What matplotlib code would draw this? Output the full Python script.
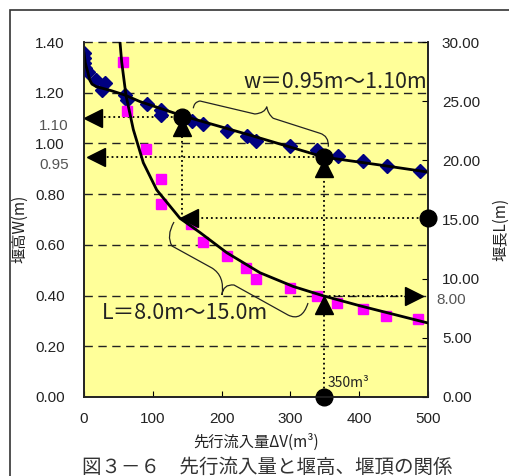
import matplotlib
matplotlib.use("Agg")
import matplotlib.pyplot as plt
from matplotlib.path import Path
from matplotlib.patches import PathPatch, Rectangle

plt.rcParams['font.family'] = ['Noto Sans CJK JP', 'DejaVu Sans']

# 先行流入量 ΔV (m3) と 堰高 W (m)
v_w = [0, 0, 0, 1.5, 6, 18, 30, 26, 59, 62, 91, 111.5, 111.5, 156.5, 173,
       208, 236.5, 250, 299, 338, 369, 406, 440, 488]
w_pts = [1.355, 1.336, 1.316, 1.296, 1.283, 1.250, 1.237, 1.211, 1.192, 1.171,
         1.155, 1.132, 1.112, 1.090, 1.075, 1.050, 1.029, 1.011, 0.990, 0.974,
         0.950, 0.932, 0.911, 0.892]

# 先行流入量 ΔV (m3) と 堰長 L (m)
v_l = [57.1, 62.1, 90.6, 111.5, 111.5, 155.5, 173.4, 207.4, 235.9, 249.3,
       298.8, 338.2, 368.2, 406.0, 439.0, 485.9]
l_pts = [28.3, 24.19, 20.94, 18.40, 16.28, 14.58, 13.07, 11.94, 10.90, 9.97,
         9.20, 8.51, 7.95, 7.42, 6.85, 6.57]

# 近似曲線
v_wfit = [0, 1.9, 5.8, 8.3, 11.6, 17.9, 39.7, 59.2, 81.4, 142, 241, 349, 430, 500]
w_fit = [1.357, 1.317, 1.278, 1.250, 1.234, 1.224, 1.208, 1.191, 1.165, 1.110,
         1.033, 0.946, 0.915, 0.887]
v_lfit = [52.3, 54.8, 61.0, 71.7, 86.2, 105.7, 139.5, 168.6, 207.4, 255.8,
          304.2, 347.8, 401.6, 498.1]
l_fit = [30.0, 28.3, 25.5, 22.6, 19.8, 17.5, 15.1, 13.9, 12.2, 10.5, 9.34,
         8.55, 7.70, 6.28]

# 読み取り点
v_a, w_a = 142, 1.105     # W = 1.10
v_b, w_b = 349, 0.945     # W = 0.95
l_a = 15.1                # L = 15.0
l_b = 8.5                 # L = 8.0

w_ticks = [0, 0.2, 0.4, 0.6, 0.8, 1.0, 1.2, 1.4]
l_ticks = [0, 5, 10, 15, 20, 25, 30]
v_ticks = [0, 100, 200, 300, 400, 500]

fig = plt.figure(figsize=(5.1, 4.76), dpi=100)
ax = fig.add_axes([84/510, 1-397/476, 344/510, 355/476])
ax.set_facecolor('#FFFF99')
ax2 = ax.twinx()

ax.set_xlim(0, 500)
ax.set_ylim(0, 1.4)
ax2.set_ylim(0, 30)

tickfont = dict(family='Liberation Sans', size=11)
ax.set_xticks(v_ticks)
ax.set_xticklabels([str(t) for t in v_ticks], fontdict=tickfont, color='#222222')
ax.set_yticks(w_ticks)
ax.set_yticklabels(['%.2f' % t for t in w_ticks], fontdict=tickfont, color='#222222')
ax2.set_yticks(l_ticks)
ax2.set_yticklabels(['%.2f' % t for t in l_ticks], fontdict=tickfont, color='#222222')
ax.tick_params(axis='x', direction='in', length=4, pad=11)
ax.tick_params(axis='y', direction='in', length=0, pad=14)
ax2.tick_params(axis='y', direction='in', length=4, pad=10)

for a in (ax, ax2):
    a.spines['top'].set_visible(False)
    for s in ('left', 'right', 'bottom'):
        a.spines[s].set_color('#222222')
        a.spines[s].set_linewidth(1.2)

for t in w_ticks[1:]:
    ax.axhline(t, color='#222222', lw=1.0, ls=(0, (6, 4)), zorder=1, clip_on=False)

# extra labels
ax.text(-0.045, 1.10 - 0.03, '1.10', transform=ax.get_yaxis_transform(),
        ha='right', va='center', fontsize=11, family='Liberation Sans', color='#555555')
ax.text(-0.045, 0.95 - 0.035, '0.95', transform=ax.get_yaxis_transform(),
        ha='right', va='center', fontsize=11, family='Liberation Sans', color='#555555')
ax2.text(1.025, 8.2, '8.00', transform=ax2.get_yaxis_transform(),
         ha='left', va='center', fontsize=11, family='Liberation Sans', color='#555555')

# data
ax.plot(v_w, w_pts, 'D', color='#000080', ms=7, mec='#000080', zorder=3)
ax2.plot(v_l, l_pts, 's', color='#FF00FF', ms=6.5, mec='#FF00FF', zorder=3)
ax.plot(v_wfit, w_fit, '-', color='black', lw=2.0, zorder=4)
ax2.plot(v_lfit, l_fit, '-', color='black', lw=2.0, zorder=4)

# dotted guides
dot = dict(color='black', lw=1.3, ls=':', zorder=2)
ax.plot([22, v_a], [w_a, w_a], **dot)
ax.plot([26, v_b], [w_b, w_b], **dot)
ax.plot([v_a, v_a], [w_a, 0.705], **dot)
ax.plot([v_b, v_b], [w_b, 0], **dot)
ax2.plot([150, 500], [l_a, l_a], **dot)
ax2.plot([v_b, 470], [l_b, l_b], **dot)

# markers
mk = dict(color='black', zorder=6, clip_on=False, ls='none')
ax.plot([v_a, v_b], [w_a, w_b], 'o', ms=12, **mk)
ax.plot([v_a, v_b], [1.066, 0.902], '^', ms=13, **mk)
ax.plot([13, 17], [1.102, 0.946], '<', ms=13, **mk)
ax2.plot([153], [l_a], '<', ms=13, **mk)
ax2.plot([v_b], [7.75], '^', ms=13, **mk)
ax2.plot([480], [l_b], '>', ms=13, **mk)
ax2.plot([500], [l_a], 'o', ms=12, **mk)
ax.plot([v_b], [0], 'o', ms=12, **mk)

# braces
C3, L2, M = Path.CURVE3, Path.LINETO, Path.MOVETO
w_brace = [(158.9, 1.1385), (159.9, 1.1634), (168.6, 1.1673), (248.4, 1.1161),
           (263.1, 1.1200), (265.6, 1.1449), (267.4, 1.1161), (275.1, 1.0991),
           (343.0, 1.0400), (356.1, 1.0293), (355.1, 0.9871)]
l_brace = [(130.8, 0.6901), (119.2, 0.6349), (127.9, 0.5955), (186.0, 0.5087),
           (204.9, 0.4772), (200.6, 0.4023), (202.0, 0.4456), (218.0, 0.4417),
           (296.5, 0.3234), (316.9, 0.2958), (325.6, 0.3707)]
codes = [M, C3, C3, L2, C3, C3, C3, C3, L2, C3, C3]
for pts in (w_brace, l_brace):
    ax.add_patch(PathPatch(Path(pts, codes), fill=False, lw=0.9,
                           edgecolor='#222222', zorder=5))

ax.text(365, 1.242, 'w＝0.95m～1.10m', ha='center', va='center', fontsize=15.5,
        color='#222222', zorder=7)
ax.text(147, 0.331, 'L＝8.0m～15.0m', ha='center', va='center', fontsize=15.5,
        color='#222222', zorder=7)
ax.text(354, 0.055, '350m³', ha='left', va='center', fontsize=10,
        color='#222222', zorder=7)

fig.text(20/510, 1-229/476, '堰高W(m)', rotation=90, ha='center', va='center',
         fontsize=11, color='#222222')
fig.text(501/510, 1-229/476, '堰長L(m)', rotation=90, ha='center', va='center',
         fontsize=11, color='#222222')
fig.text(256/510, 1-442/476, '先行流入量ΔV(m³)', ha='center', va='center',
         fontsize=11, color='#222222')
fig.text(267/510, 1-467/476, '図３－６　先行流入量と堰高、堰頂の関係',
         ha='center', va='center', fontsize=14, color='#333333')

fig.add_artist(Rectangle((10/510, -0.5), 2, 1.5 - 10/476, fill=False,
                         edgecolor='#333333', lw=1.2, transform=fig.transFigure))

fig.savefig('out.png', dpi=100)
